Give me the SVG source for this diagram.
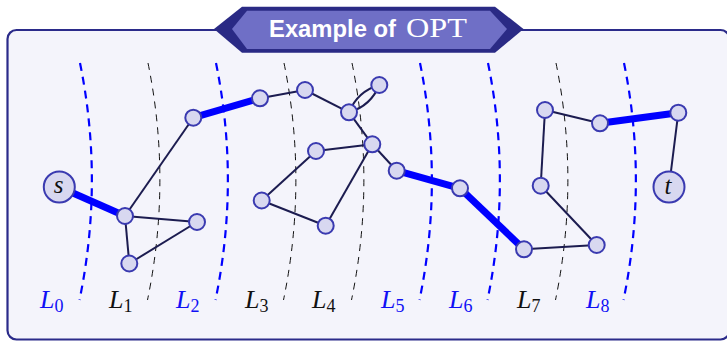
<svg xmlns="http://www.w3.org/2000/svg" width="727" height="342" viewBox="0 0 727 342">
<style>
.frame{fill:#f4f4fb;stroke:#2b2b8a;stroke-width:2.2}
.lb{fill:none;stroke:#0000ff;stroke-width:2.2;stroke-dasharray:8 6}
.lk{fill:none;stroke:#111111;stroke-width:1;stroke-dasharray:7 6}
.e{fill:none;stroke:#1c1c50;stroke-width:2}
.eb{fill:none;stroke:#0000ff;stroke-width:7;stroke-linecap:butt}
.n{fill:#d8d8f0;stroke:#3a3ab0;stroke-width:2}
.lab{font-family:"Liberation Serif","DejaVu Serif",serif;font-size:26px;font-style:italic}
.sub{font-family:"Liberation Serif","DejaVu Serif",serif;font-size:18px;font-style:normal}
.blue{fill:#1010f5}
.blk{fill:#111111}
.st{font-family:"Liberation Serif","DejaVu Serif",serif;font-size:25px;font-style:italic;fill:#111111;text-anchor:middle}
</style>
<rect class="frame" x="7.5" y="30" width="722" height="309.5" rx="9"/>
<g id="banner">
<polygon points="214,29 242,6.7 495,6.7 523.5,29 495,52.7 242,52.7" fill="#2a2a85"/>
<polygon points="232,29 247,10.7 490,10.7 507,29 490,49 247,49" fill="#6f6fc6"/>
<text x="269" y="36.5" font-family="'Liberation Sans',Arial,sans-serif" font-weight="bold" font-size="23" fill="#ffffff" textLength="127" lengthAdjust="spacingAndGlyphs">Example of</text>
<text x="406" y="36.5" font-family="'Liberation Serif','Times New Roman',serif" font-size="27" fill="#ffffff" textLength="61" lengthAdjust="spacingAndGlyphs">OPT</text>
</g>
<g id="layers">
<path class="lb" d="M80 63 Q104 181 79.5 300"/>
<path class="lk" d="M148 63 Q172 181 147.5 300"/>
<path class="lb" d="M216 63 Q240 181 215.5 300"/>
<path class="lk" d="M284 63 Q308 181 283.5 300"/>
<path class="lk" d="M352 63 Q376 181 351.5 300"/>
<path class="lb" d="M420 63 Q444 181 419.5 300"/>
<path class="lb" d="M488 63 Q512 181 487.5 300"/>
<path class="lk" d="M556 63 Q580 181 555.5 300"/>
<path class="lb" d="M624 63 Q648 181 623.5 300"/>
</g>
<g id="layer-labels">
<text class="lab blue" x="40" y="308">L<tspan class="sub" dy="4">0</tspan></text>
<text class="lab blk" x="109" y="308">L<tspan class="sub" dy="4">1</tspan></text>
<text class="lab blue" x="176" y="308">L<tspan class="sub" dy="4">2</tspan></text>
<text class="lab blk" x="245" y="308">L<tspan class="sub" dy="4">3</tspan></text>
<text class="lab blk" x="312" y="308">L<tspan class="sub" dy="4">4</tspan></text>
<text class="lab blue" x="381" y="308">L<tspan class="sub" dy="4">5</tspan></text>
<text class="lab blue" x="449" y="308">L<tspan class="sub" dy="4">6</tspan></text>
<text class="lab blk" x="517" y="308">L<tspan class="sub" dy="4">7</tspan></text>
<text class="lab blue" x="586" y="308">L<tspan class="sub" dy="4">8</tspan></text>
</g>
<g id="connectors">
<line class="eb" x1="59.3" y1="187" x2="125" y2="216"/>
<line class="e" x1="125" y1="216" x2="193.3" y2="117.7"/>
<line class="e" x1="125" y1="216" x2="197" y2="222"/>
<line class="e" x1="125" y1="216" x2="129.3" y2="263.5"/>
<line class="e" x1="129.3" y1="263.5" x2="197" y2="222"/>
<line class="eb" x1="193.3" y1="117.7" x2="260" y2="98.3"/>
<line class="e" x1="260" y1="98.3" x2="305" y2="90"/>
<line class="e" x1="305" y1="90" x2="349" y2="112.3"/>
<path class="e" d="M349 112.3 Q370.8 106 379.3 85"/>
<path class="e" d="M349 112.3 Q357.5 91.3 379.3 85"/>
<line class="e" x1="349" y1="112.3" x2="372.3" y2="144.3"/>
<line class="e" x1="372.3" y1="144.3" x2="316" y2="151"/>
<line class="e" x1="316" y1="151" x2="261.7" y2="200.5"/>
<line class="e" x1="261.7" y1="200.5" x2="325.7" y2="225.7"/>
<line class="e" x1="325.7" y1="225.7" x2="372.3" y2="144.3"/>
<line class="e" x1="372.3" y1="144.3" x2="396.7" y2="170.7"/>
<line class="eb" x1="396.7" y1="170.7" x2="460" y2="188.3"/>
<line class="eb" x1="460" y1="188.3" x2="524" y2="249.3"/>
<line class="e" x1="524" y1="249.3" x2="596.7" y2="245"/>
<line class="e" x1="596.7" y1="245" x2="540.7" y2="185.7"/>
<line class="e" x1="540.7" y1="185.7" x2="545" y2="110"/>
<line class="e" x1="545" y1="110" x2="600" y2="123.3"/>
<line class="eb" x1="600" y1="123.3" x2="678.3" y2="112.7"/>
<line class="e" x1="678.3" y1="112.7" x2="669" y2="187"/>
</g>
<g id="s"><circle class="n" cx="59.3" cy="187" r="15.5"/><text class="st" x="58.5" y="193">s</text></g>
<g id="n1"><circle class="n" cx="125" cy="216" r="8"/></g>
<g id="n2"><circle class="n" cx="197" cy="222" r="8"/></g>
<g id="n3"><circle class="n" cx="129.3" cy="263.5" r="8"/></g>
<g id="n4"><circle class="n" cx="193.3" cy="117.7" r="8"/></g>
<g id="n5"><circle class="n" cx="260" cy="98.3" r="8"/></g>
<g id="n6"><circle class="n" cx="305" cy="90" r="8"/></g>
<g id="n7"><circle class="n" cx="379.3" cy="85" r="8"/></g>
<g id="n8"><circle class="n" cx="349" cy="112.3" r="8"/></g>
<g id="n9"><circle class="n" cx="372.3" cy="144.3" r="8"/></g>
<g id="n10"><circle class="n" cx="316" cy="151" r="8"/></g>
<g id="n11"><circle class="n" cx="261.7" cy="200.5" r="8"/></g>
<g id="n12"><circle class="n" cx="325.7" cy="225.7" r="8"/></g>
<g id="n13"><circle class="n" cx="396.7" cy="170.7" r="8"/></g>
<g id="n14"><circle class="n" cx="460" cy="188.3" r="8"/></g>
<g id="n15"><circle class="n" cx="524" cy="249.3" r="8"/></g>
<g id="n16"><circle class="n" cx="596.7" cy="245" r="8"/></g>
<g id="n17"><circle class="n" cx="540.7" cy="185.7" r="8"/></g>
<g id="n18"><circle class="n" cx="545" cy="110" r="8"/></g>
<g id="n19"><circle class="n" cx="600" cy="123.3" r="8"/></g>
<g id="n20"><circle class="n" cx="678.3" cy="112.7" r="8"/></g>
<g id="t"><circle class="n" cx="669" cy="187" r="15.5"/><text class="st" x="668" y="194">t</text></g>
</svg>
